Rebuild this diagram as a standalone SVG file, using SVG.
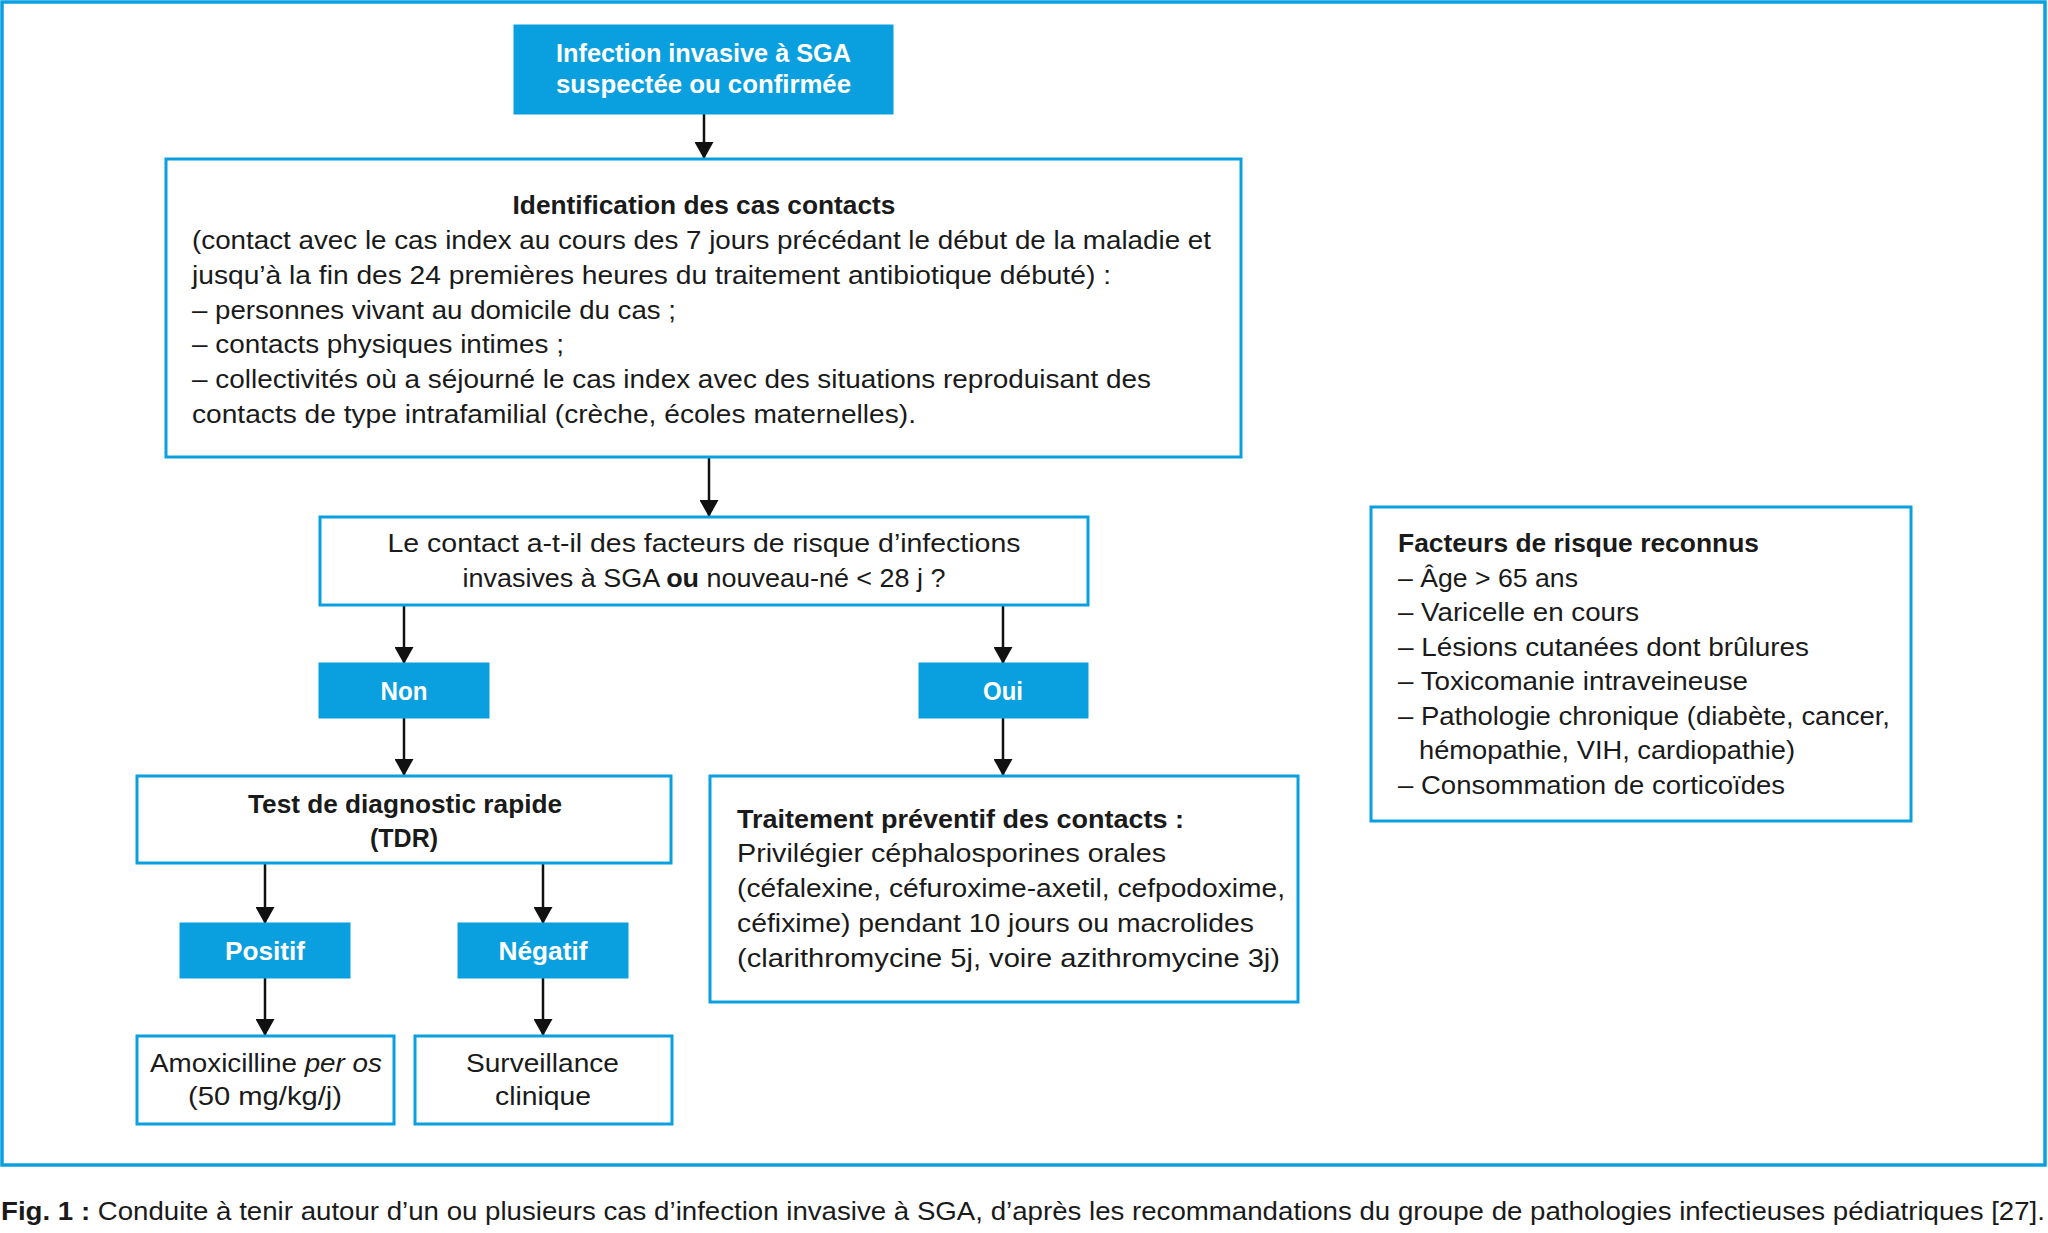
<svg xmlns="http://www.w3.org/2000/svg" width="2048" height="1233" viewBox="0 0 2048 1233">
<style>
.box{fill:#ffffff;stroke:#0aa0e0;stroke-width:3}
.fill{fill:#0aa0e0;stroke:#0aa0e0;stroke-width:3}
.frame{fill:#ffffff;stroke:#0aa0e0;stroke-width:3.5}
text{font-family:"Liberation Sans",Arial,sans-serif;font-size:25px;fill:#1a1a1a}
.b{font-weight:bold}
.w{fill:#ffffff;font-weight:bold}
.lab{font-size:26px}
.c{text-anchor:middle}
.conn line{stroke:#111111;stroke-width:2.5}
</style>
<defs>
<marker id="arr" viewBox="0 0 17 19" refX="17" refY="9.5" markerWidth="17" markerHeight="19" orient="auto" markerUnits="userSpaceOnUse">
<path d="M0,0 L17,9.5 L0,19 z" fill="#111111"/>
</marker>
</defs>
<rect width="2048" height="1233" fill="#ffffff"/>
<rect class="frame" x="2" y="2" width="2043" height="1163"/>

<g class="conn">
<line x1="704" y1="113" x2="704" y2="159" marker-end="url(#arr)"/>
<line x1="709" y1="457" x2="709" y2="517" marker-end="url(#arr)"/>
<line x1="404" y1="605" x2="404" y2="664" marker-end="url(#arr)"/>
<line x1="1003" y1="605" x2="1003" y2="664" marker-end="url(#arr)"/>
<line x1="404" y1="717" x2="404" y2="776" marker-end="url(#arr)"/>
<line x1="1003" y1="717" x2="1003" y2="776" marker-end="url(#arr)"/>
<line x1="265" y1="863" x2="265" y2="924" marker-end="url(#arr)"/>
<line x1="543" y1="863" x2="543" y2="924" marker-end="url(#arr)"/>
<line x1="265" y1="977" x2="265" y2="1036" marker-end="url(#arr)"/>
<line x1="543" y1="977" x2="543" y2="1036" marker-end="url(#arr)"/>
</g>

<g id="start">
<rect class="fill" x="515" y="26" width="377" height="87"/>
<text class="w c lab" x="703.5" y="62" textLength="295" lengthAdjust="spacingAndGlyphs">Infection invasive à SGA</text>
<text class="w c lab" x="703.5" y="93" textLength="295" lengthAdjust="spacingAndGlyphs">suspectée ou confirmée</text>
</g>

<g id="identification">
<rect class="box" x="166" y="159" width="1075" height="298"/>
<text class="b c" x="704" y="214" textLength="383" lengthAdjust="spacingAndGlyphs">Identification des cas contacts</text>
<text x="192" y="249" textLength="1019" lengthAdjust="spacingAndGlyphs">(contact avec le cas index au cours des 7 jours précédant le début de la maladie et</text>
<text x="192" y="284" textLength="919" lengthAdjust="spacingAndGlyphs">jusqu’à la fin des 24 premières heures du traitement antibiotique débuté) :</text>
<text x="192" y="319" textLength="484" lengthAdjust="spacingAndGlyphs">– personnes vivant au domicile du cas ;</text>
<text x="192" y="353" textLength="372" lengthAdjust="spacingAndGlyphs">– contacts physiques intimes ;</text>
<text x="192" y="388" textLength="959" lengthAdjust="spacingAndGlyphs">– collectivités où a séjourné le cas index avec des situations reproduisant des</text>
<text x="192" y="423" textLength="724" lengthAdjust="spacingAndGlyphs">contacts de type intrafamilial (crèche, écoles maternelles).</text>
</g>

<g id="question">
<rect class="box" x="320" y="517" width="768" height="88"/>
<text class="c" x="704" y="552" textLength="633" lengthAdjust="spacingAndGlyphs">Le contact a-t-il des facteurs de risque d’infections</text>
<text class="c" x="704" y="587" textLength="483" lengthAdjust="spacingAndGlyphs">invasives à SGA <tspan class="b">ou</tspan> nouveau-né &lt; 28 j ?</text>
</g>

<g id="non">
<rect class="fill" x="320" y="664" width="168" height="53"/>
<text class="w c lab" x="404" y="700" textLength="47" lengthAdjust="spacingAndGlyphs">Non</text>
</g>

<g id="oui">
<rect class="fill" x="920" y="664" width="167" height="53"/>
<text class="w c lab" x="1003" y="700" textLength="40" lengthAdjust="spacingAndGlyphs">Oui</text>
</g>

<g id="tdr">
<rect class="box" x="137" y="776" width="534" height="87"/>
<text class="b c" x="405" y="813" textLength="314" lengthAdjust="spacingAndGlyphs">Test de diagnostic rapide</text>
<text class="b c" x="404" y="847" textLength="68" lengthAdjust="spacingAndGlyphs">(TDR)</text>
</g>

<g id="traitement">
<rect class="box" x="710" y="776" width="588" height="226"/>
<text class="b" x="737" y="828" textLength="447" lengthAdjust="spacingAndGlyphs">Traitement préventif des contacts :</text>
<text x="737" y="862" textLength="429" lengthAdjust="spacingAndGlyphs">Privilégier céphalosporines orales</text>
<text x="737" y="897" textLength="548" lengthAdjust="spacingAndGlyphs">(céfalexine, céfuroxime-axetil, cefpodoxime,</text>
<text x="737" y="932" textLength="517" lengthAdjust="spacingAndGlyphs">céfixime) pendant 10 jours ou macrolides</text>
<text x="737" y="967" textLength="543" lengthAdjust="spacingAndGlyphs">(clarithromycine 5j, voire azithromycine 3j)</text>
</g>

<g id="positif">
<rect class="fill" x="181" y="924" width="168" height="53"/>
<text class="w c lab" x="265" y="960" textLength="80" lengthAdjust="spacingAndGlyphs">Positif</text>
</g>

<g id="negatif">
<rect class="fill" x="459" y="924" width="168" height="53"/>
<text class="w c lab" x="543" y="960" textLength="89" lengthAdjust="spacingAndGlyphs">Négatif</text>
</g>

<g id="amoxicilline">
<rect class="box" x="137" y="1036" width="257" height="88"/>
<text class="c" x="266" y="1072" textLength="232" lengthAdjust="spacingAndGlyphs">Amoxicilline <tspan font-style="italic">per os</tspan></text>
<text class="c" x="265" y="1105" textLength="154" lengthAdjust="spacingAndGlyphs">(50 mg/kg/j)</text>
</g>

<g id="surveillance">
<rect class="box" x="415" y="1036" width="257" height="88"/>
<text class="c" x="542.5" y="1072" textLength="153" lengthAdjust="spacingAndGlyphs">Surveillance</text>
<text class="c" x="543" y="1105" textLength="96" lengthAdjust="spacingAndGlyphs">clinique</text>
</g>

<g id="facteurs">
<rect class="box" x="1371" y="507" width="540" height="314"/>
<text class="b" x="1398" y="552" textLength="361" lengthAdjust="spacingAndGlyphs">Facteurs de risque reconnus</text>
<text x="1398" y="587" textLength="180" lengthAdjust="spacingAndGlyphs">– Âge &gt; 65 ans</text>
<text x="1398" y="621" textLength="241" lengthAdjust="spacingAndGlyphs">– Varicelle en cours</text>
<text x="1398" y="656" textLength="411" lengthAdjust="spacingAndGlyphs">– Lésions cutanées dont brûlures</text>
<text x="1398" y="690" textLength="350" lengthAdjust="spacingAndGlyphs">– Toxicomanie intraveineuse</text>
<text x="1398" y="725" textLength="492" lengthAdjust="spacingAndGlyphs">– Pathologie chronique (diabète, cancer,</text>
<text x="1419" y="759" textLength="376" lengthAdjust="spacingAndGlyphs">hémopathie, VIH, cardiopathie)</text>
<text x="1398" y="794" textLength="387" lengthAdjust="spacingAndGlyphs">– Consommation de corticoïdes</text>
</g>

<text x="1" y="1220" textLength="2044" lengthAdjust="spacingAndGlyphs"><tspan class="b">Fig. 1 :</tspan> Conduite à tenir autour d’un ou plusieurs cas d’infection invasive à SGA, d’après les recommandations du groupe de pathologies infectieuses pédiatriques [27].</text>
</svg>
